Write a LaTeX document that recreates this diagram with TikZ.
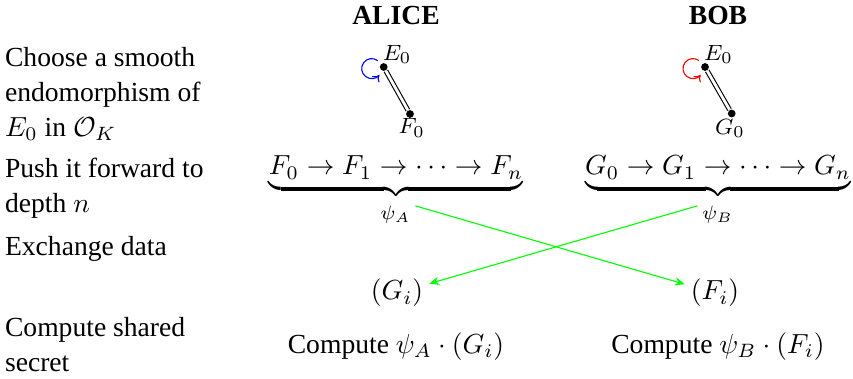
\documentclass[tikz,border=0pt]{standalone}
\usepackage[no-math]{fontspec}
\setmainfont{Liberation Serif}
\usetikzlibrary{arrows.meta}
\begin{document}
\begin{tikzpicture}[x=0.3623pt,y=0.3623pt,
  lbl/.style={anchor=west,align=left,inner sep=0pt,font=\fontsize{10}{12.7}\selectfont},
  dot/.style={circle,fill=black,inner sep=0pt,minimum size=2.8pt},
  sublbl/.style={inner sep=0pt,font=\footnotesize},
  conn/.style={green,-{Stealth[length=3.6pt,width=3pt]}},
  loopc/.style={-{To[length=2.2pt,width=3.4pt]}},
  brow/.style={anchor=base},
  psil/.style={inner xsep=1.5pt,inner ysep=0pt},
  recv/.style={inner sep=2pt}]
\useasboundingbox (0,0) rectangle (853,378);
% left column
\node[lbl] (l1) at (4.5,284) {Choose a smooth\\endomorphism of\\$E_0$ in $\mathcal{O}_K$};
\node[lbl] (l2) at (4.5,190) {Push it forward to\\depth $n$};
\node[lbl] (l3) at (4.5,129.4) {Exchange data};
\node[lbl] (l4) at (4.5,33.4) {Compute shared\\secret};
% titles
\node[anchor=base,font=\bfseries] (alice) at (396,353) {ALICE};
\node[anchor=base,font=\bfseries] (bob) at (718,353) {BOB};
% endomorphism pictures
\node[dot] (ea) at (383.7,311) {};
\node[dot] (fa) at (410,264) {};
\node[dot] (eb) at (705,311) {};
\node[dot] (gb) at (731.7,264.5) {};
\node[sublbl,anchor=south west] (eal) at ([shift={(-1.5,3)}]ea.center) {$E_0$};
\node[sublbl,anchor=south west] (ebl) at ([shift={(-1.5,3)}]eb.center) {$E_0$};
\node[sublbl,anchor=north] (fal) at ([shift={(1.7,-4.3)}]fa.center) {$F_0$};
\node[sublbl,anchor=north] (gbl) at ([shift={(-1.7,-5.5)}]gb.center) {$G_0$};
\draw[double,double distance=1pt] (ea) -- (fa);
\draw[double,double distance=1pt] (eb) -- (gb);
\draw[loopc,blue] ([shift={(-6,6.4)}]ea.center) arc[start angle=53,end angle=320,radius=10];
\draw[loopc,red] ([shift={(-6,6.4)}]eb.center) arc[start angle=53,end angle=320,radius=10];
% push forward
\node[brow] (fr) at (396,203) {$\underbrace{F_0\to F_1\to\cdots\to F_n}$};
\node[brow] (gr) at (718,203) {$\underbrace{G_0\to G_1\to\cdots\to G_n}$};
\node[psil] (psiA) at (395.5,163) {$\scriptstyle\psi_A$};
\node[psil] (psiB) at (717.5,163) {$\scriptstyle\psi_B$};
% exchange
\node[recv] (gi) at (397,85) {$(G_i)$};
\node[recv] (fi) at (715,85) {$(F_i)$};
\draw[conn] (psiA.north east) -- (fi);
\draw[conn] (psiB.north west) -- (gi);
% shared secret
\node[brow] (ca) at (396,25) {Compute $\psi_A\cdot(G_i)$};
\node[brow] (cb) at (718,25) {Compute $\psi_B\cdot(F_i)$};
\end{tikzpicture}
\end{document}
